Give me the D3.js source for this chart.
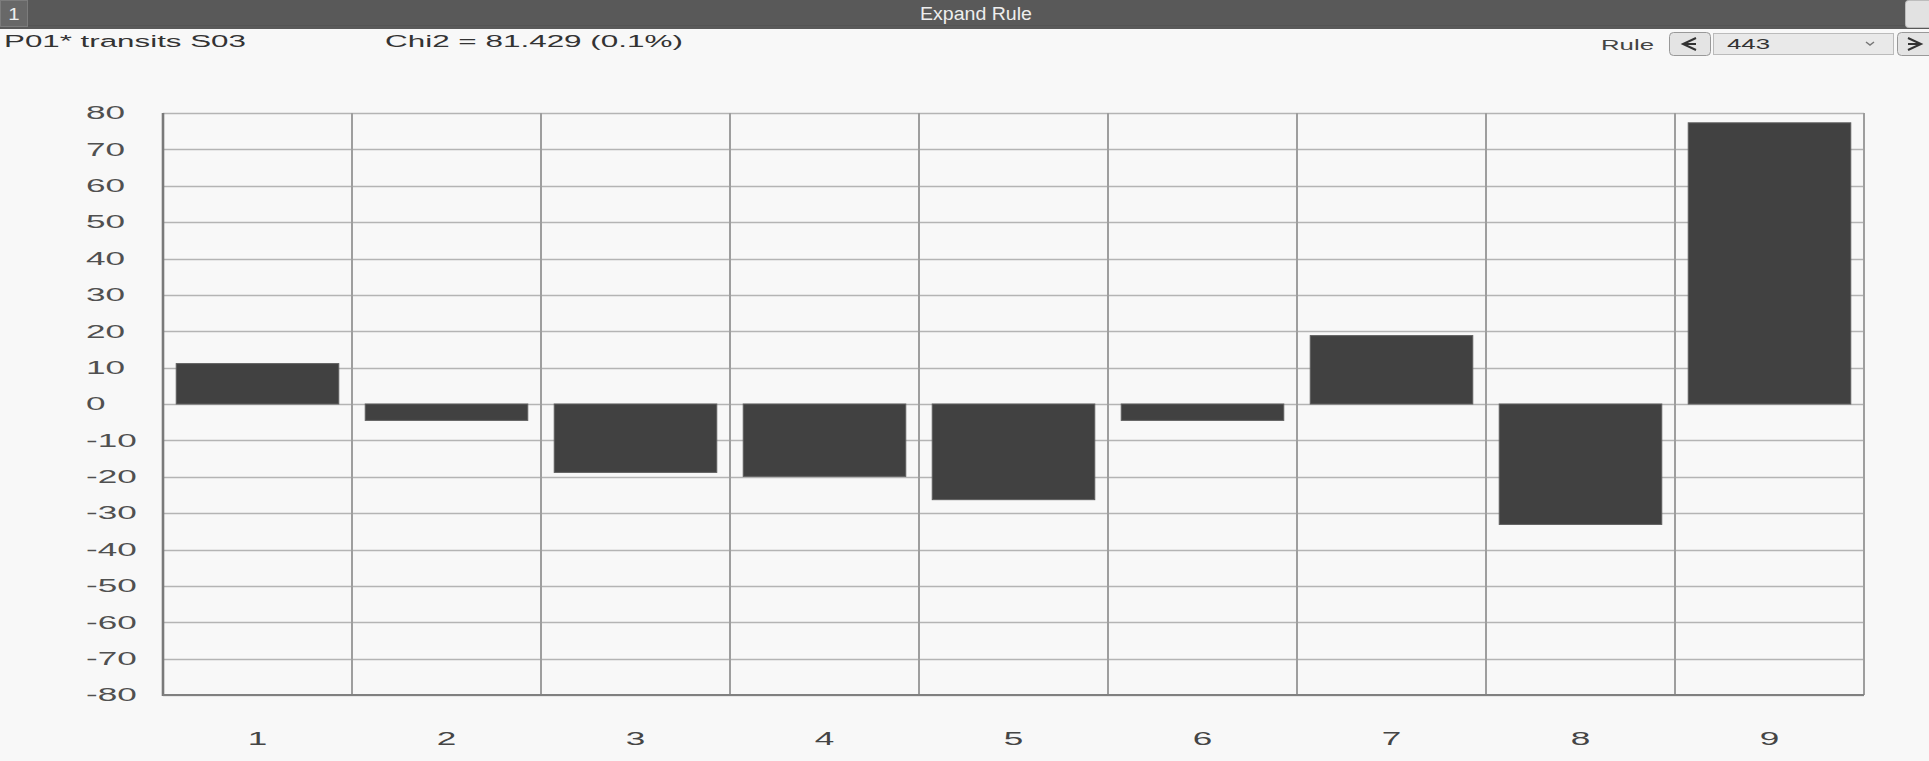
<!DOCTYPE html>
<html>
<head>
<meta charset="utf-8">
<script src="https://d3js.org/d3.v7.min.js"></script>
<style>
  body { margin: 0; background: #f8f8f8; overflow: hidden; }
  text { font-family: "Liberation Sans", Arial, sans-serif; }
</style>
</head>
<body>
<script>
    // values
    let categories = ["1", "2", "3", "4", "5", "6", "7", "8", "9"];
    let values = [11.1, -4.5, -18.8, -19.9, -26.3, -4.5, 18.8, -33.1, 77.3];
    let yTicks = [80, 70, 60, 50, 40, 30, 20, 10, 0, -10, -20, -30, -40, -50, -60, -70, -80];
    let titleText = "P01* transits S03";
    let chiText = "Chi2 = 81.429 (0.1%)";
    let headerText = "Expand Rule";
    let tabText = "1";
    let ruleLabel = "Rule";
    let ruleValue = "443";

    let width = 1929, height = 761;
    let margin = {top: 113, left: 163, right: 65, bottom: 66};

    let svg = d3.select("body").append("svg")
        .attr("width", width)
        .attr("height", height);

    svg.append("rect").attr("width", width).attr("height", height).attr("fill", "#f8f8f8");

    // text drawn wider than the font, like the screenshot
    function stretched(g, str, x, y, size, sx, anchor, fill) {
        return g.append("text")
            .attr("transform", `translate(${x},${y}) scale(${sx},1)`)
            .attr("text-anchor", anchor)
            .attr("dy", "0.35em")
            .style("font-size", size + "px")
            .attr("fill", fill)
            .text(str);
    }

    function fitted(g, str, x, y, size, targetW, fill) {
        let t = stretched(g, str, x, y, size, 1, "start", fill);
        let len = t.node().getComputedTextLength();
        t.attr("transform", `translate(${x},${y}) scale(${targetW / len},1)`);
        return t;
    }

    // header bar
    let head = svg.append("g");
    head.append("rect").attr("x", 0).attr("y", 0).attr("width", width).attr("height", 29).attr("fill", "#595959");
    head.append("line").attr("x1", 0).attr("x2", width).attr("y1", 25.5).attr("y2", 25.5).attr("stroke", "#535353");
    head.append("rect").attr("x", 0.5).attr("y", 0.5).attr("width", 27).attr("height", 26)
        .attr("fill", "#686868").attr("stroke", "#7c7c7c");
    stretched(head, tabText, 14, 14, 17, 1.2, "middle", "#eeeeee");
    fitted(head, headerText, 920, 14, 18, 112, "#eeeeee");
    head.append("rect").attr("x", 1905.5).attr("y", 0.5).attr("width", 30).attr("height", 27).attr("rx", 3)
        .attr("fill", "#e2e2e2").attr("stroke", "#bdbdbd");

    // second row
    let info = svg.append("g");
    fitted(info, titleText, 4, 41, 17, 242, "#333333");
    fitted(info, chiText, 385, 41, 17, 298, "#333333");
    fitted(info, ruleLabel, 1601, 45, 14, 53, "#444444");

    info.append("rect").attr("x", 1669.5).attr("y", 32.5).attr("width", 41).attr("height", 23).attr("rx", 4)
        .attr("fill", "#e4e4e4").attr("stroke", "#999999");
    info.append("path").attr("d", "M1696,38 L1683,44 L1696,50 M1683,44 L1696,44")
        .attr("fill", "none").attr("stroke", "#333").attr("stroke-width", 2);

    info.append("rect").attr("x", 1713.5).attr("y", 33.5).attr("width", 180).attr("height", 21)
        .attr("fill", "#e9e9e9").attr("stroke", "#bbbbbb");
    fitted(info, ruleValue, 1727, 44, 14, 43, "#333333");
    info.append("path").attr("d", "M1866,42 L1870,45 L1874,42")
        .attr("fill", "none").attr("stroke", "#777").attr("stroke-width", 1.5);

    info.append("rect").attr("x", 1897.5).attr("y", 32.5).attr("width", 41).attr("height", 23).attr("rx", 4)
        .attr("fill", "#e4e4e4").attr("stroke", "#999999");
    info.append("path").attr("d", "M1908,38 L1921,44 L1908,50 M1908,44 L1921,44")
        .attr("fill", "none").attr("stroke", "#333").attr("stroke-width", 2);

    // scales
    let x = d3.scaleBand()
        .domain(categories)
        .range([margin.left, width - margin.right])
        .paddingInner(0.14)
        .paddingOuter(0.07);

    let y = d3.scaleLinear()
        .domain([-80, 80])
        .range([height - margin.bottom, margin.top]);

    let edge = x.step() * 0.07;
    let bounds = categories.map(c => x(c) - edge).concat([x(categories[categories.length - 1]) + x.bandwidth() + edge]);

    // grid
    let grid = svg.append("g");
    grid.selectAll("line.h")
        .data(yTicks)
        .join("line")
            .attr("class", "h")
            .attr("x1", margin.left)
            .attr("x2", width - margin.right)
            .attr("y1", d => Math.round(y(d)) + 0.5)
            .attr("y2", d => Math.round(y(d)) + 0.5)
            .attr("stroke", "#b4b4b4")
            .attr("stroke-width", 1.4);

    grid.selectAll("line.v")
        .data(bounds)
        .join("line")
            .attr("class", "v")
            .attr("x1", d => d)
            .attr("x2", d => d)
            .attr("y1", y(80))
            .attr("y2", y(-80))
            .attr("stroke", "#9e9e9e")
            .attr("stroke-width", 2);

    // bars
    svg.append("g")
        .selectAll("rect")
        .data(values)
        .join("rect")
            .attr("x", (d, i) => x(categories[i]))
            .attr("y", d => y(Math.max(0, d)))
            .attr("width", x.bandwidth())
            .attr("height", d => Math.abs(y(d) - y(0)))
            .attr("fill", "#414141")
            .attr("stroke", "#5e5e5e")
            .attr("stroke-width", 1);

    // axis borders
    svg.append("line")
        .attr("x1", margin.left).attr("x2", margin.left)
        .attr("y1", y(80)).attr("y2", y(-80) + 1)
        .attr("stroke", "#7a7a7a").attr("stroke-width", 2.6);
    svg.append("line")
        .attr("x1", margin.left).attr("x2", width - margin.right)
        .attr("y1", y(-80)).attr("y2", y(-80))
        .attr("stroke", "#808080").attr("stroke-width", 2);

    // tick labels
    let labels = svg.append("g");
    yTicks.forEach(t => stretched(labels, String(t), 86, y(t), 18, 1.95, "start", "#505050"));
    categories.forEach(c => stretched(labels, c, x(c) + x.bandwidth() / 2, 739, 18, 1.95, "middle", "#454545"));
</script>
</body>
</html>
